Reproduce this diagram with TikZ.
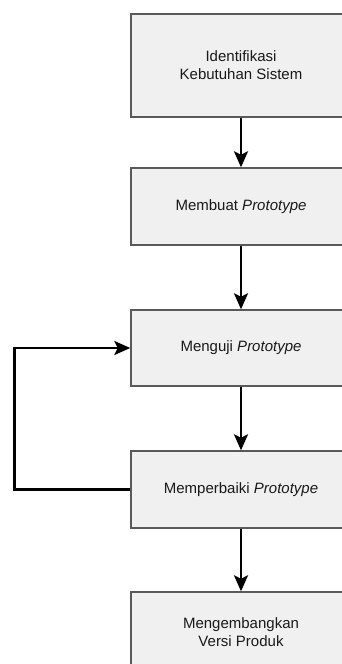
\documentclass[tikz,border=0pt]{standalone}
\usepackage{fontspec}
\setmainfont{Liberation Sans}
\usetikzlibrary{arrows.meta}
\begin{document}
\begin{tikzpicture}[x=1pt,y=-1pt,
  procbox/.style={draw=black!65, line width=1.4pt, fill=black!6, minimum width=220pt, anchor=center, align=center, font=\fontsize{15}{18}\selectfont, text=black!90, inner sep=0pt},
  flow/.style={line width=2.6pt, -{Stealth[length=16pt,width=14pt,inset=3.5pt]}}]
\useasboundingbox (0,0) rectangle (342,664);
\clip (0,0) rectangle (342,664);
\fill[white] (0,0) rectangle (342,664);
\node[procbox, minimum height=103pt] (b1) at (241,65.5) {Identifikasi\\Kebutuhan Sistem};
\node[procbox, minimum height=77pt] (b2) at (241,206.5) {Membuat \textit{Prototype}};
\node[procbox, minimum height=76pt] (b3) at (241,348) {Menguji \textit{Prototype}};
\node[procbox, minimum height=77pt] (b4) at (241,489.5) {Memperbaiki \textit{Prototype}};
\node[procbox, minimum height=80pt] (b5) at (241,632) {Mengembangkan\\Versi Produk};
\draw[flow] (b1) -- (b2);
\draw[flow] (b2) -- (b3);
\draw[flow] (b3) -- (b4);
\draw[flow] (b4) -- (b5);
\coordinate (lx) at (14.5,0);
\draw[flow] (b4.west) -- (b4.west -| lx) -- (b3.west -| lx) -- (b3.west);
\end{tikzpicture}
\end{document}
